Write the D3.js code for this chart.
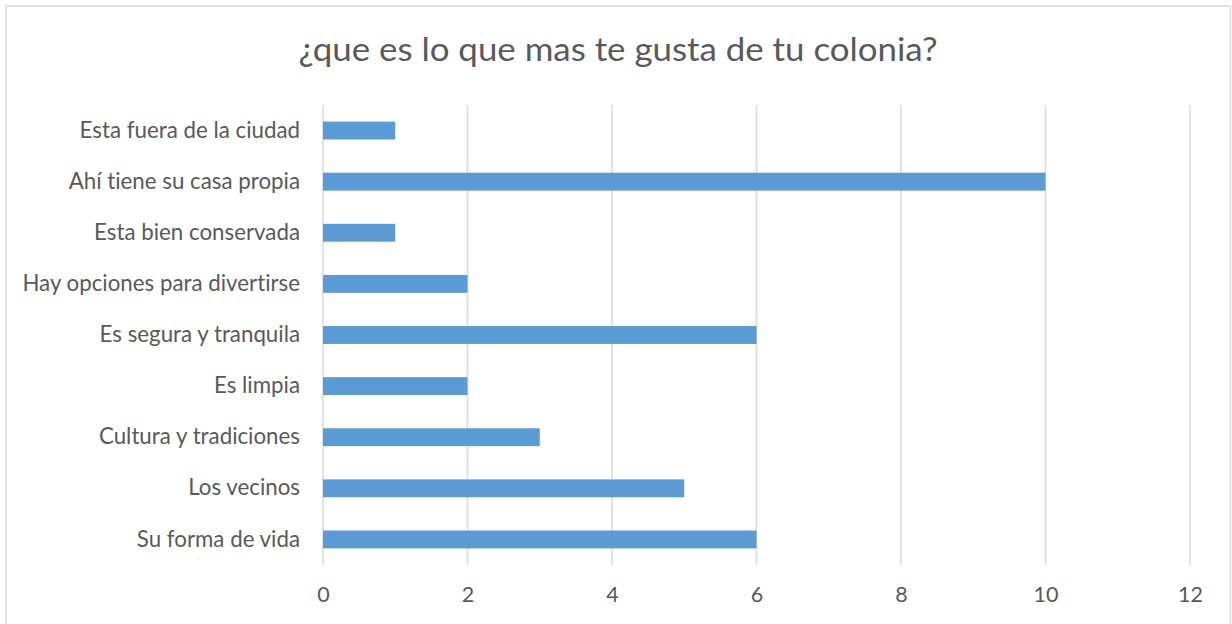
<!DOCTYPE html>
<html><head><meta charset="utf-8">
<script src="https://cdn.jsdelivr.net/npm/d3@7"></script>
<style>body{margin:0;background:#fff}svg{display:block}text{font-family:Lato,sans-serif;fill:#595959;font-variant-ligatures:none;font-feature-settings:"liga" 0}</style>
</head><body>
<svg id="c" width="1232" height="624"></svg>
<script>
const title = "¿que es lo que mas te gusta de tu colonia?";
const categories = ["Esta fuera de la ciudad","Ahí tiene su casa propia","Esta bien conservada","Hay opciones para divertirse","Es segura y tranquila","Es limpia","Cultura y tradiciones","Los vecinos","Su forma de vida"];
const values = [1,10,1,2,6,2,3,5,6];
const xTicks = [0,2,4,6,8,10,12];

const svg = d3.select("#c");
svg.append("rect").attr("x",6).attr("y",6).attr("width",1224.5).attr("height",630)
  .attr("fill","#fff").attr("stroke","#d9d9d9").attr("stroke-width",1.5);

const t = svg.append("text").attr("x",618).attr("y",61).attr("text-anchor","middle")
  .style("font-size","33px").text(title);
t.attr("textLength",639).attr("lengthAdjust","spacingAndGlyphs");

const x = d3.scaleLinear().domain([0,12]).range([323,1190]);
const y = d3.scaleBand().domain(categories).range([105,565]).paddingInner(0.65).paddingOuter(0.325);

svg.append("g").selectAll("line").data(xTicks).join("line")
  .attr("x1",d=>x(d)).attr("x2",d=>x(d)).attr("y1",105).attr("y2",565)
  .attr("stroke","#d9d9d9").attr("stroke-width",1.5);

svg.append("g").selectAll("rect").data(values).join("rect")
  .attr("x",x(0)).attr("y",(d,i)=>y(categories[i]))
  .attr("width",d=>x(d)-x(0)).attr("height",y.bandwidth())
  .attr("fill","#5b9bd5");

const xa = svg.append("g").attr("transform","translate(0,565)")
  .call(d3.axisBottom(x).tickValues(xTicks).tickSize(0).tickPadding(22));
xa.select(".domain").remove();
xa.selectAll("text").style("font-size","21.5px").attr("fill","#595959").style("font-family","Lato,sans-serif");

const ya = svg.append("g").attr("transform","translate(323,0)")
  .call(d3.axisLeft(y).tickSize(0).tickPadding(23));
ya.select(".domain").remove();
ya.selectAll("text").style("font-size","22.3px").attr("fill","#595959").style("font-family","Lato,sans-serif");
</script>
</body></html>
